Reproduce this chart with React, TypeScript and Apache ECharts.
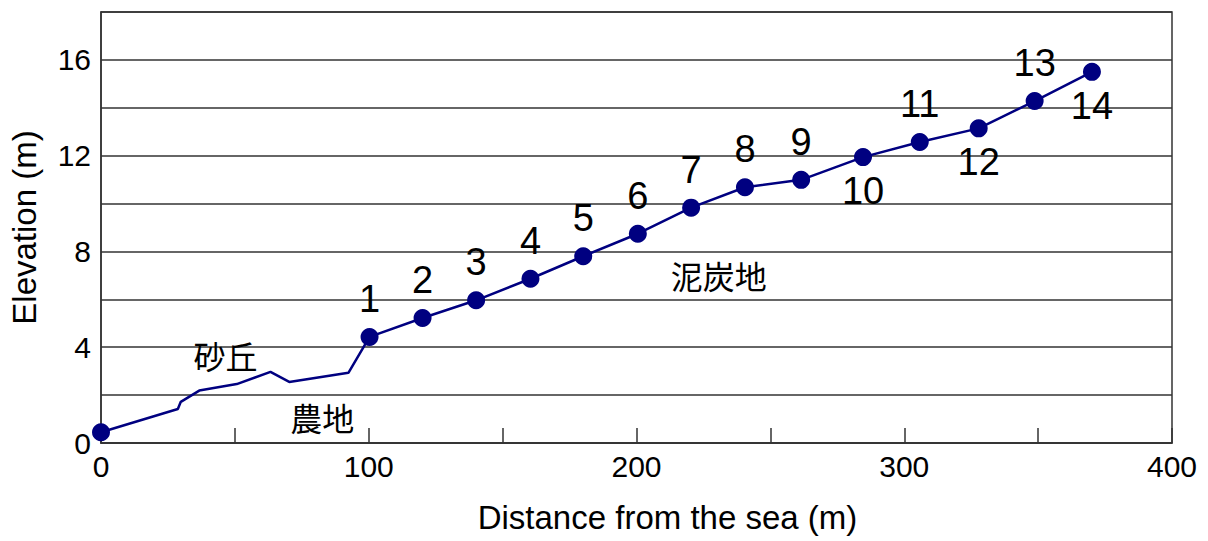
import React, { useEffect, useRef } from "react";
import * as echarts from "echarts";

// Profile line (distance m, elevation m)
const profileX = [0, 28.7, 29.8, 36.7, 50.7, 63.3, 70.3, 92.4, 100.3, 120.1, 140.1, 160.4, 180.1, 200.5, 220.4, 240.5, 261.5, 284.6, 305.8, 327.8, 348.7, 370.1];
const profileY = [0.45, 1.42, 1.72, 2.19, 2.46, 2.97, 2.55, 2.93, 4.43, 5.22, 5.96, 6.86, 7.8, 8.74, 9.83, 10.68, 10.99, 11.94, 12.57, 13.14, 14.28, 15.5];

// Marked points (index into profile) and their labels
const markerIdx = [0, 8, 9, 10, 11, 12, 13, 14, 15, 16, 17, 18, 19, 20, 21];
const markerLabels = ["", "1", "2", "3", "4", "5", "6", "7", "8", "9", "10", "11", "12", "13", "14"];
const labelSide = ["top", "top", "top", "top", "top", "top", "top", "top", "top", "top", "bottom", "top", "bottom", "top", "bottom"];

// Land-type annotations
const noteText = ["砂丘", "農地", "泥炭地"];
const noteX = [46.5, 82.6, 230.7];
const noteY = [3.67, 1.08, 7.0];

// Axis ticks
const xTicks = { min: 0, max: 400, interval: 50, labelEvery: 100 };
const yTicks = { min: 0, max: 18, interval: 2, labelEvery: 4 };

export default function App() {
  const ref = useRef<HTMLDivElement>(null);
  useEffect(() => {
    if (!ref.current) return;
    const chart = echarts.init(ref.current, null, { renderer: "svg" });
    const navy = "#000080";
    const font = "Liberation Sans, Arial, sans-serif";
    const cjk = "Noto Sans CJK JP, sans-serif";
    chart.setOption({
      animation: false,
      grid: { left: 101, right: 36, top: 12, bottom: 98, show: true, borderColor: "#333", borderWidth: 1.5 },
      xAxis: {
        type: "value",
        min: xTicks.min,
        max: xTicks.max,
        interval: xTicks.interval,
        name: "Distance from the sea (m)",
        nameLocation: "middle",
        nameGap: 58,
        nameTextStyle: { fontFamily: font, fontSize: 33, color: "#000", padding: [0, 0, 0, 62] },
        axisLine: { show: true, lineStyle: { color: "#333", width: 1.5 } },
        axisTick: { show: true, inside: true, length: 15, lineStyle: { color: "#333", width: 1.5 } },
        axisLabel: {
          fontFamily: font,
          fontSize: 30,
          color: "#000",
          margin: 8,
          formatter: (v: number) => (v % xTicks.labelEvery === 0 ? String(v) : ""),
        },
        splitLine: { show: false },
      },
      yAxis: {
        type: "value",
        min: yTicks.min,
        max: yTicks.max,
        interval: yTicks.interval,
        name: "Elevation (m)",
        nameLocation: "middle",
        nameGap: 60,
        nameRotate: 90,
        nameTextStyle: { fontFamily: font, fontSize: 33, color: "#000" },
        axisLine: { show: true, lineStyle: { color: "#333", width: 1.5 } },
        axisTick: { show: false },
        axisLabel: {
          fontFamily: font,
          fontSize: 30,
          color: "#000",
          margin: 10,
          formatter: (v: number) => (v % yTicks.labelEvery === 0 && v < yTicks.max ? String(v) : ""),
        },
        splitLine: { show: true, lineStyle: { color: "#333", width: 1.5 } },
      },
      series: [
        {
          type: "line",
          data: profileX.map((x, i) => [x, profileY[i]]),
          showSymbol: false,
          symbol: "none",
          lineStyle: { color: navy, width: 2.5 },
          z: 3,
        },
        {
          type: "scatter",
          data: markerIdx.map((idx, k) => ({
            value: [profileX[idx], profileY[idx]],
            label: {
              show: markerLabels[k] !== "",
              formatter: markerLabels[k],
              position: labelSide[k],
              distance: labelSide[k] === "top" ? 10 : 6,
            },
          })),
          symbol: "circle",
          symbolSize: 18,
          itemStyle: { color: navy, opacity: 1 },
          label: { fontFamily: font, fontSize: 38, color: "#000" },
          z: 4,
        },
        {
          type: "scatter",
          data: noteText.map((t, i) => ({ value: [noteX[i], noteY[i]], name: t })),
          symbolSize: 0,
          itemStyle: { opacity: 1 },
          label: {
            show: true,
            position: "inside",
            formatter: (p: any) => p.name,
            fontFamily: cjk,
            fontSize: 32,
            color: "#000",
          },
          silent: true,
          z: 2,
        },
      ],
    });
    return () => chart.dispose();
  }, []);
  return <div ref={ref} style={{ position: "absolute", left: 0, top: 0, width: 1208, height: 541 }} />;
}
